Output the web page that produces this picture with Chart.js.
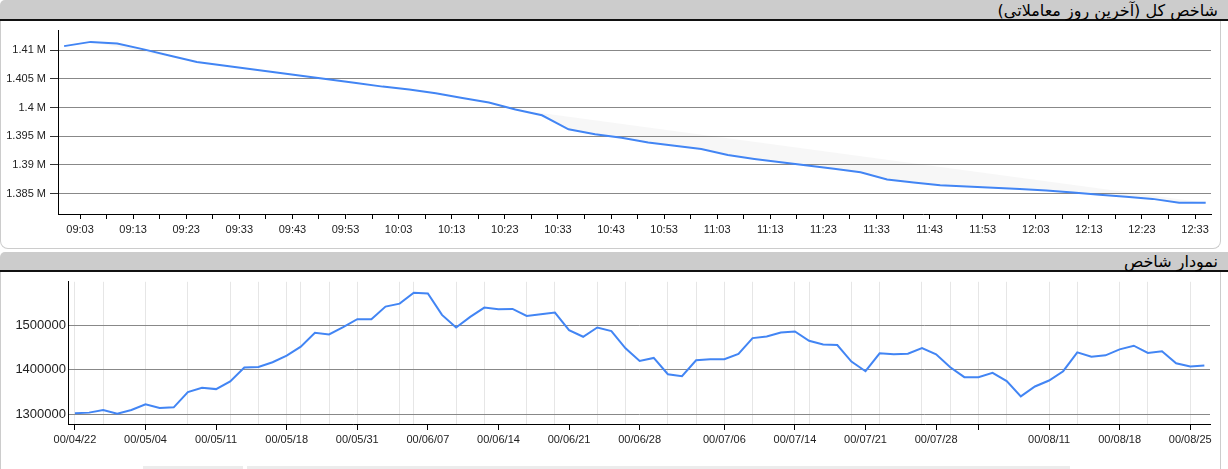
<!DOCTYPE html>
<html>
<head>
<meta charset="utf-8">
<script src="https://cdn.jsdelivr.net/npm/chart.js"></script>
<style>
body{margin:0;background:#fff;width:1228px;height:469px;overflow:hidden;position:relative}
.bar{position:absolute;left:0;width:1228px;background:#cccccc;border-bottom:2px solid #111;border-top-left-radius:5px}
.bar span{position:absolute;right:10px;bottom:0;font:16px 'DejaVu Sans',sans-serif;line-height:17px;color:#000;direction:rtl;white-space:nowrap}
.box{position:absolute;left:0;width:1219px;background:#fff;border:1px solid #ccc;border-top:none;border-radius:0 0 8px 8px}
.foot{position:absolute;top:466px;height:3px;background:#ececec}
canvas{position:absolute;left:0}
</style>
</head>
<body>
<div class="bar" style="top:0;height:19px"><span>شاخص کل (آخرین روز معاملاتی)</span></div>
<div class="box" style="top:21px;height:227px"></div>
<div class="bar" style="top:252px;height:18px"><span>نمودار شاخص</span></div>
<div class="box" style="top:272px;height:220px"></div>
<div class="foot" style="left:143px;width:100px"></div>
<div class="foot" style="left:247px;width:823px"></div>
<canvas id="today" width="1228" height="228" style="top:20px"></canvas>
<canvas id="history" width="1228" height="197" style="top:272px"></canvas>
<script>
// last trading day, every 5 minutes
var todayTimes = ['09:00','09:05','09:10','09:15','09:20','09:25','09:30','09:35','09:40','09:45',
  '09:50','09:55','10:00','10:05','10:10','10:15','10:20','10:25','10:30','10:35',
  '10:40','10:45','10:50','10:55','11:00','11:05','11:10','11:15','11:20','11:25',
  '11:30','11:35','11:40','11:45','11:50','11:55','12:00','12:05','12:10','12:15',
  '12:20','12:25','12:30','12:35'];
var todayValues = [1410740,1411480,1411210,1410170,1409070,1407980,1407360,1406740,1406140,1405520,
  1404900,1404310,1403670,1403160,1402520,1401690,1400910,1399660,1398670,1396210,
  1395350,1394760,1393900,1393330,1392760,1391730,1391040,1390450,1389900,1389310,
  1388730,1387470,1386920,1386430,1386210,1386000,1385810,1385540,1385180,1384810,
  1384450,1384070,1383380,1383380];
// faint shaded band: straight chords between these times
var shadeChords = [['09:05','09:25'],['10:25','12:35']];
var todayTickLabels = ['09:03','09:13','09:23','09:33','09:43','09:53','10:03','10:13','10:23','10:33',
  '10:43','10:53','11:03','11:13','11:23','11:33','11:43','11:53','12:03','12:13','12:23','12:33'];
var todayYTicks = [1385000,1390000,1395000,1400000,1405000,1410000];

// index history (trading days)
var historyValues = [1302960,1304440,1310370,1302220,1310370,1322960,1314810,1316300,1350370,1360000,
  1357040,1374070,1405190,1406670,1417040,1431850,1451850,1482960,1479260,1495560,
  1513330,1513330,1541480,1548150,1572590,1571110,1522960,1494810,1518520,1539260,
  1535560,1536300,1520740,1524440,1528150,1488890,1474070,1494810,1486670,1448150,
  1420000,1426670,1390370,1385930,1421480,1423700,1423700,1435560,1471110,1474810,
  1483700,1485930,1465190,1457040,1455560,1418520,1397040,1437040,1434810,1436300,
  1448890,1434810,1405930,1383700,1383700,1393330,1374810,1340740,1362960,1376300,
  1397040,1439260,1429630,1432590,1445930,1454070,1437780,1441480,1414810,1407410,
  1409630];
var historyTickIdx = [0,5,10,15,20,25,30,35,40,46,51,56,61,64,69,74,79];
var historyTickLabels = ['00/04/22','00/05/04','00/05/11','00/05/18','00/05/31','00/06/07','00/06/14',
  '00/06/21','00/06/28','00/07/06','00/07/14','00/07/21','00/07/28','','00/08/11','00/08/18','00/08/25'];
var historyGridIdx = [0,2,5,8,11,13,15,16,18,20,23,24,27,29,32,34,37,39,42,44,46,48,51,52,
  55,57,60,62,64,66,69,71,74,76,79];
var historyYTicks = [1300000,1400000,1500000];

var FONT = "'Liberation Sans', Arial, sans-serif";
var BLUE = '#4285f4';

function toMin(t){
  var p = t.split(':');
  return (p[0] - 9) * 60 + (+p[1]);
}

var todayPts = todayTimes.map(function(t, i){ return {x: toMin(t), y: todayValues[i]}; });
var shadePts = todayPts.filter(function(p){
  return !shadeChords.some(function(c){ return p.x > toMin(c[0]) && p.x < toMin(c[1]); });
});

var todayXTicks = [];
todayTickLabels.forEach(function(t){
  todayXTicks.push(toMin(t));
  if (t != todayTickLabels[todayTickLabels.length - 1]) todayXTicks.push(toMin(t) + 5);
});

new Chart(document.getElementById('today'), {
  type: 'line',
  data: {
    datasets: [{
      data: todayPts,
      borderColor: BLUE,
      borderWidth: 2,
      pointRadius: 0,
      tension: 0,
      fill: false
    }, {
      data: shadePts,
      borderWidth: 0,
      borderColor: 'rgba(0,0,0,0)',
      backgroundColor: 'rgba(0,0,0,0.03)',
      pointRadius: 0,
      tension: 0,
      fill: 0
    }]
  },
  options: {
    responsive: false,
    animation: false,
    events: [],
    layout: {padding: {top: 8, right: 17, left: 0, bottom: 0}},
    plugins: {legend: {display: false}, tooltip: {enabled: false}},
    scales: {
      x: {
        type: 'linear',
        min: -1.15,
        max: 216,
        afterBuildTicks: function(a){ a.ticks = todayXTicks.map(function(v){ return {value: v}; }); },
        afterFit: function(s){ s.height = 34; },
        grid: {drawOnChartArea: false, tickLength: 5, tickColor: '#000'},
        border: {color: '#000'},
        ticks: {
          autoSkip: false, maxRotation: 0, padding: 4, color: '#222',
          font: {family: FONT, size: 11},
          callback: function(v){
            var i = todayTickLabels.findIndex(function(t){ return toMin(t) == v; });
            return i < 0 ? '' : todayTickLabels[i];
          }
        }
      },
      y: {
        min: 1381430,
        max: 1413450,
        afterBuildTicks: function(a){ a.ticks = todayYTicks.map(function(v){ return {value: v}; }); },
        afterFit: function(s){ s.width = 58; },
        grid: {color: '#888', tickLength: 8, tickColor: '#333'},
        border: {color: '#000'},
        ticks: {
          padding: 4, color: '#222',
          font: {family: FONT, size: 11},
          callback: function(v){ return (v / 1e6) + ' M'; }
        }
      }
    }
  }
});

var historyXTicks = historyGridIdx.concat(historyTickIdx.filter(function(i){
  return historyGridIdx.indexOf(i) < 0;
})).sort(function(a, b){ return a - b; });

new Chart(document.getElementById('history'), {
  type: 'line',
  data: {
    datasets: [{
      data: historyValues.map(function(v, i){ return {x: i, y: v}; }),
      borderColor: BLUE,
      borderWidth: 2,
      pointRadius: 0,
      tension: 0,
      fill: false
    }]
  },
  options: {
    responsive: false,
    animation: false,
    events: [],
    layout: {padding: {top: 9, right: 18, left: 0, bottom: 0}},
    plugins: {legend: {display: false}, tooltip: {enabled: false}},
    scales: {
      x: {
        type: 'linear',
        min: -0.49,
        max: 80.4,
        afterBuildTicks: function(a){ a.ticks = historyXTicks.map(function(v){ return {value: v}; }); },
        afterFit: function(s){ s.height = 45; },
        grid: {
          tickLength: 6,
          color: function(c){ return c.tick && historyGridIdx.indexOf(c.tick.value) >= 0 ? '#e6e6e6' : 'rgba(0,0,0,0)'; },
          tickColor: function(c){ return c.tick && historyTickIdx.indexOf(c.tick.value) >= 0 ? '#000' : 'rgba(0,0,0,0)'; }
        },
        border: {color: '#000'},
        ticks: {
          autoSkip: false, maxRotation: 0, padding: 3, color: '#222',
          font: {family: FONT, size: 11},
          callback: function(v){
            var i = historyTickIdx.indexOf(v);
            return i < 0 ? '' : historyTickLabels[i];
          }
        }
      },
      y: {
        min: 1279000,
        max: 1597000,
        afterBuildTicks: function(a){ a.ticks = historyYTicks.map(function(v){ return {value: v}; }); },
        afterFit: function(s){ s.width = 68; },
        grid: {color: '#888', drawTicks: false},
        border: {color: '#000'},
        ticks: {
          padding: 2, color: '#222',
          font: {family: FONT, size: 13},
          callback: function(v){ return String(v); }
        }
      }
    }
  }
});
</script>
</body>
</html>
